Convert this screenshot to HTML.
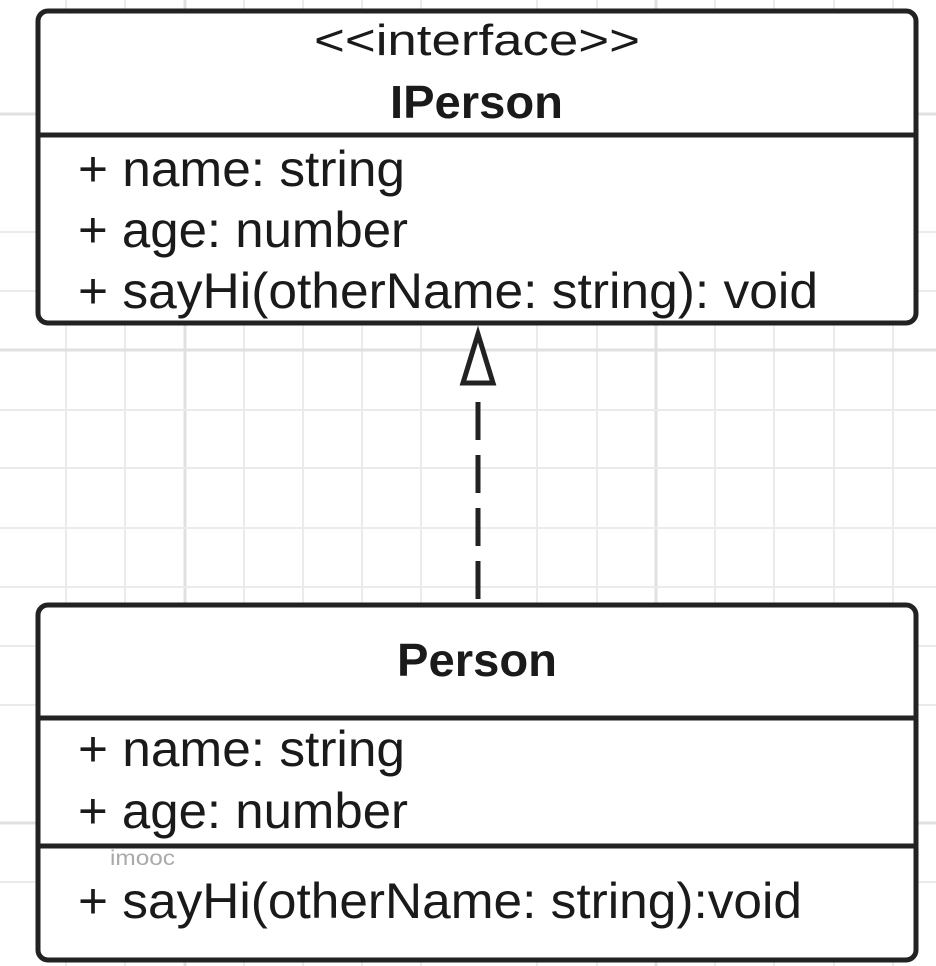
<!DOCTYPE html>
<html><head><meta charset="utf-8"><style>
html,body{margin:0;padding:0;background:#fff;}
svg{display:block;}
text{font-family:"Liberation Sans",sans-serif;fill:#1a1a1a;}
</style></head><body>
<svg width="936" height="966" viewBox="0 0 936 966" xmlns="http://www.w3.org/2000/svg">
<g stroke="#ebebeb" stroke-width="2">
<line x1="66" y1="0" x2="66" y2="966"/><line x1="125" y1="0" x2="125" y2="966"/>
<line x1="185" y1="0" x2="185" y2="966" stroke="#e0e0e0" stroke-width="3"/>
<line x1="244" y1="0" x2="244" y2="966"/><line x1="303" y1="0" x2="303" y2="966"/>
<line x1="362" y1="0" x2="362" y2="966"/><line x1="421" y1="0" x2="421" y2="966"/>
<line x1="537" y1="0" x2="537" y2="966"/><line x1="597" y1="0" x2="597" y2="966"/>
<line x1="656" y1="0" x2="656" y2="966" stroke="#e0e0e0" stroke-width="3"/>
<line x1="715" y1="0" x2="715" y2="966"/><line x1="774" y1="0" x2="774" y2="966"/>
<line x1="834" y1="0" x2="834" y2="966"/><line x1="893" y1="0" x2="893" y2="966"/>
<line x1="0" y1="350" x2="936" y2="350" stroke="#e0e0e0" stroke-width="3"/>
<line x1="0" y1="410" x2="936" y2="410"/><line x1="0" y1="468" x2="936" y2="468"/>
<line x1="0" y1="528" x2="936" y2="528"/><line x1="0" y1="587" x2="936" y2="587"/>
<line x1="0" y1="291" x2="936" y2="291"/><line x1="0" y1="232" x2="936" y2="232"/>
<line x1="0" y1="114" x2="936" y2="114" stroke="#e0e0e0" stroke-width="3"/>
<line x1="0" y1="646" x2="936" y2="646"/><line x1="0" y1="705" x2="936" y2="705"/>
<line x1="0" y1="823" x2="936" y2="823" stroke="#e0e0e0" stroke-width="3"/>
<line x1="0" y1="882" x2="936" y2="882"/>
</g>
<!-- top box -->
<rect x="38" y="11" width="878" height="312" rx="10" fill="#fff" stroke="#222" stroke-width="5"/>
<line x1="38" y1="135" x2="916" y2="135" stroke="#222" stroke-width="5"/>
<text x="314" y="55" font-size="44" textLength="326" lengthAdjust="spacingAndGlyphs">&lt;&lt;interface&gt;&gt;</text>
<text x="390" y="118" font-size="46" font-weight="bold" textLength="173" lengthAdjust="spacingAndGlyphs">IPerson</text>
<text x="78" y="186" font-size="50" textLength="327" lengthAdjust="spacingAndGlyphs">+ name: string</text>
<text x="78" y="247" font-size="50" textLength="330" lengthAdjust="spacingAndGlyphs">+ age: number</text>
<text x="78" y="308" font-size="50" textLength="740" lengthAdjust="spacingAndGlyphs">+ sayHi(otherName: string): void</text>
<!-- connector -->
<line x1="478" y1="402" x2="478" y2="605" stroke="#222" stroke-width="5" stroke-dasharray="38,15"/>
<polygon points="478,334 463,383 493,383" fill="#fff" stroke="#222" stroke-width="5"/>
<!-- bottom box -->
<rect x="38" y="605" width="878" height="355" rx="10" fill="#fff" stroke="#222" stroke-width="5"/>
<line x1="38" y1="718" x2="916" y2="718" stroke="#222" stroke-width="5"/>
<line x1="38" y1="846" x2="916" y2="846" stroke="#222" stroke-width="5"/>
<text x="397" y="676" font-size="46" font-weight="bold" textLength="160" lengthAdjust="spacingAndGlyphs">Person</text>
<text x="78" y="766" font-size="50" textLength="327" lengthAdjust="spacingAndGlyphs">+ name: string</text>
<text x="78" y="828" font-size="50" textLength="330" lengthAdjust="spacingAndGlyphs">+ age: number</text>
<text x="110" y="865" font-size="21" textLength="65" lengthAdjust="spacingAndGlyphs" style="fill:#aaa">imooc</text>
<text x="78" y="918" font-size="50" textLength="724" lengthAdjust="spacingAndGlyphs">+ sayHi(otherName: string):void</text>
</svg>
</body></html>
